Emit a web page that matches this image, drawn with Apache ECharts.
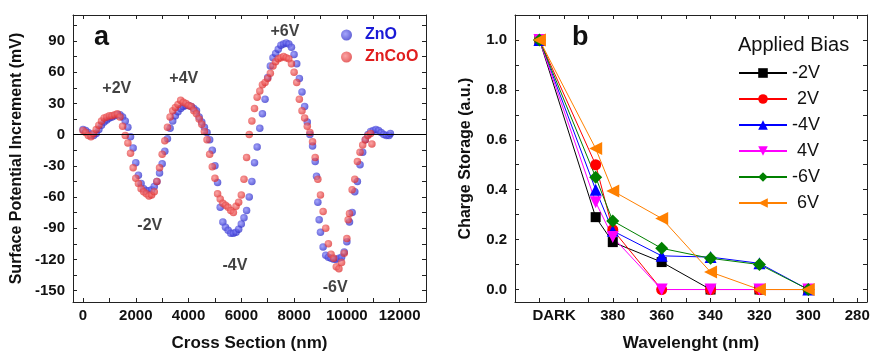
<!DOCTYPE html>
<html>
<head>
<meta charset="utf-8">
<script src="https://cdn.jsdelivr.net/npm/echarts@6/dist/echarts.min.js"></script>
<style>
  html, body { margin: 0; padding: 0; background: #fff; }
  #chart { width: 871px; height: 353px; }
</style>
</head>
<body>
<div id="chart"></div>
<script>
// ---- Panel a: surface potential profiles along the cross section ----
const znoX = [0,100,200,300,400,500,600,700,800,900,1000,1100,1200,1300,1400,1500,1600,1700,1800,1900,
  2000,2100,2200,2300,2400,2500,2600,2700,2800,2900,3000,3100,3200,3300,3400,3500,3600,3700,3800,3900,
  4000,4100,4200,4300,4400,4500,4600,4700,4800,4900,5000,5100,5200,5300,5400,5500,5600,5700,5800,5900,
  6000,6100,6200,6300,6400,6500,6600,6700,6800,6900,7000,7100,7200,7300,7400,7500,7600,7700,7800,7900,
  8000,8100,8200,8300,8400,8500,8600,8700,8800,8850,8900,8950,9000,9100,9200,9300,9400,9500,9600,9700,
  9800,9900,10000,10100,10200,10300,10400,10500,10600,10700,10800,10900,11000,11100,11200,11300,11400,11500,11600,11650];
const znoY = [5,4,2,0,-1,1,5,9,12,14,16,17,18,19,19,17,13,7,-2,-13,
  -27,-39,-47,-52,-54,-54,-53,-50,-45,-37,-28,-16,-4,6,13,18,22,25,27,28,
  28,27,25,23,17,12,7,2,-5,-15,-30,-46,-70,-84,-89,-92,-95,-95,-94,-91,
  -86,-80,-73,-60,-45,-27,-12,6,20,34,55,66,74,78,82,86,87,88,87,84,
  77,68,54,41,27,12,0,-11,-26,-40,-65,-82,-94,-108,-116,-118,-119,-120,-120,-119,
  -118,-113,-103,-84,-75,-55,-45,-29,-17,-5,0,3,4,5,4,2,0,-1,-1,1];

const zncooX = [0,100,200,300,400,500,600,700,800,900,1000,1100,1200,1300,1400,1500,1600,1700,1800,1900,
  2000,2100,2200,2300,2400,2500,2600,2700,2800,2900,3000,3100,3200,3300,3400,3500,3600,3700,3800,3900,
  4000,4100,4200,4300,4400,4500,4600,4700,4800,4900,5000,5100,5200,5300,5400,5500,5600,5700,5800,5900,
  6000,6100,6200,6300,6400,6500,6600,6700,6800,6900,7000,7100,7200,7300,7400,7500,7600,7700,7800,7900,
  8000,8100,8200,8300,8400,8500,8600,8700,8800,8900,9000,9100,9200,9300,9400,9500,9600,9700,9800,9900,
  10000,10050,10100,10200,10300,10400,10500,10600,10700,10800,10900,10950];
const zncooY = [4,2,-1,-2,1,5,9,13,16,17,18,18,19,20,17,8,-1,-8,-18,-32,
  -42,-47,-52,-55,-57,-59,-58,-55,-45,-32,-19,-6,7,17,23,26,29,33,31,30,
  28,27,23,20,15,10,3,-5,-19,-31,-42,-57,-62,-66,-68,-70,-73,-75,-69,-65,
  -58,-43,-22,0,13,25,36,42,48,50,54,59,66,70,73,74,75,74,73,68,
  60,50,34,23,16,8,2,-7,-22,-43,-58,-74,-90,-105,-115,-119,-127,-129,-123,-114,
  -100,-82,-76,-53,-43,-26,-17,-10,-5,-1,1,-9];

// bias annotations placed in data coordinates
const biasLabelX = [1280, 3820, 7650, 2530, 5760, 9560];
const biasLabelY = [44, 54, 99, -88, -126, -147];
const biasLabelText = ['+2V', '+4V', '+6V', '-2V', '-4V', '-6V'];

const aXLabels = [0, 2000, 4000, 6000, 8000, 10000, 12000];
const aXTicks = [0,1000,2000,3000,4000,5000,6000,7000,8000,9000,10000,11000,12000];
const aYLabels = [-150, -120, -90, -60, -30, 0, 30, 60, 90];
const aYTicks = [-150,-135,-120,-105,-90,-75,-60,-45,-30,-15,0,15,30,45,60,75,90,105];

// ---- Panel b: normalised charge storage vs illumination wavelength ----
// 410 stands for the dark reference point
const wavelength = [410, 387, 380, 360, 340, 320, 300];
const biasNeg2 = [1.0, 0.29, 0.19, 0.11, 0.0, 0.0, 0.0];
const biasPos2 = [1.0, 0.50, 0.24, 0.0, 0.0, 0.0, 0.0];
const biasNeg4 = [1.0, 0.40, 0.235, 0.135, 0.13, 0.105, 0.0];
const biasPos4 = [1.0, 0.35, 0.21, 0.0, 0.0, 0.0, 0.0];
const biasNeg6 = [1.0, 0.45, 0.275, 0.165, 0.125, 0.10, 0.0];
const biasPos6 = [1.0, 0.565, 0.395, 0.285, 0.07, 0.0, 0.0];

const bXLabels = [404, 380, 360, 340, 320, 300, 280];
const bXTicks = [410, 400, 390, 380, 370, 360, 350, 340, 330, 320, 310, 300, 290, 280];
const bYLabels = [0, 0.2, 0.4, 0.6, 0.8, 1.0];
const bYTicks = [0, 0.1, 0.2, 0.3, 0.4, 0.5, 0.6, 0.7, 0.8, 0.9, 1.0];

const FONT = 'Arial, "Liberation Sans", sans-serif';
const zip = (xs, ys) => xs.map((x, i) => [x, ys[i]]);

function dotGradient(light, dark) {
  return {
    type: 'radial', x: 0.4, y: 0.4, r: 0.6,
    colorStops: [{ offset: 0, color: light }, { offset: 1, color: dark }]
  };
}

function frameAxis(gridIndex, pos, min, max, ticks, extra) {
  return Object.assign({
    type: 'value', gridIndex, position: pos, min, max,
    axisLine: { show: true, onZero: false, lineStyle: { color: '#222', width: 1 } },
    axisTick: { show: true, inside: true, length: 4, customValues: ticks, lineStyle: { color: '#222' } },
    axisLabel: { show: false },
    splitLine: { show: false }
  }, extra || {});
}

const labelStyle = { fontFamily: FONT, fontWeight: 'bold', fontSize: 15, color: '#111' };
const titleStyle = { fontFamily: FONT, fontWeight: 'bold', fontSize: 17, color: '#111' };

const biasSeries = [
  { name: '-2V', data: biasNeg2, color: '#000000', symbol: 'rect', size: 10, rotate: 0 },
  { name: ' 2V', data: biasPos2, color: '#ff0000', symbol: 'circle', size: 11, rotate: 0 },
  { name: '-4V', data: biasNeg4, color: '#0000ff', symbol: 'triangle', size: 12, rotate: 0 },
  { name: ' 4V', data: biasPos4, color: '#ff00ff', symbol: 'triangle', size: 12, rotate: 180 },
  { name: '-6V', data: biasNeg6, color: '#008000', symbol: 'diamond', size: 13, rotate: 0 },
  { name: ' 6V', data: biasPos6, color: '#ff8000', symbol: 'triangle', size: 13, rotate: 90 }
];

const chart = echarts.init(document.getElementById('chart'), null, { renderer: 'canvas' });

chart.setOption({
  backgroundColor: '#ffffff',
  animation: false,
  grid: [
    { left: 73, top: 15, width: 353, height: 287, containLabel: false, outerBoundsMode: 'none' },
    { left: 515, top: 15, width: 352, height: 287, containLabel: false, outerBoundsMode: 'none' }
  ],
  xAxis: [
    frameAxis(0, 'bottom', -380, 13000, aXTicks, {
      axisLabel: { show: true, customValues: aXLabels, margin: 6, ...labelStyle,
        formatter: v => String(v) },
      name: 'Cross Section (nm)', nameLocation: 'middle', nameGap: 33,
      nameTextStyle: titleStyle
    }),
    frameAxis(0, 'top', -380, 13000, aXTicks),
    frameAxis(1, 'bottom', 276, 420, bXTicks, {
      inverse: true,
      axisLabel: {
        show: true, customValues: bXLabels, margin: 6, ...labelStyle,
        formatter: v => (v === 404 ? 'DARK' : String(v))
      },
      name: 'Wavelenght (nm)', nameLocation: 'middle', nameGap: 33,
      nameTextStyle: titleStyle
    }),
    frameAxis(1, 'top', 276, 420, bXTicks, { inverse: true })
  ],
  yAxis: [
    frameAxis(0, 'left', -161, 115, aYTicks, {
      axisLabel: { show: true, customValues: aYLabels, margin: 8, ...labelStyle },
      name: 'Surface Potential Increment (mV)', nameLocation: 'middle', nameGap: 48,
      nameTextStyle: { ...titleStyle, fontSize: 16 }
    }),
    frameAxis(0, 'right', -161, 115, aYTicks),
    frameAxis(1, 'left', -0.05, 1.1, bYTicks, {
      axisLabel: { show: true, customValues: bYLabels, margin: 8, ...labelStyle,
        formatter: v => v.toFixed(1) },
      name: 'Charge Storage (a.u.)', nameLocation: 'middle', nameGap: 41,
      nameTextStyle: { ...titleStyle, fontSize: 16 }
    }),
    frameAxis(1, 'right', -0.05, 1.1, bYTicks)
  ],
  legend: [
    {
      orient: 'vertical', left: 336, top: 22, itemWidth: 11, itemHeight: 11, itemGap: 6,
      data: [
        { name: 'ZnO', textStyle: { color: '#1a1ad6' } },
        { name: 'ZnCoO', textStyle: { color: '#e01e1e' } }
      ],
      textStyle: { fontFamily: FONT, fontWeight: 'bold', fontSize: 16, padding: [0, 0, 0, 8] }
    },
    {
      orient: 'vertical', left: 733, top: 59, itemWidth: 48, itemHeight: 12, itemGap: 8,
      data: biasSeries.map(s => s.name),
      textStyle: { fontFamily: FONT, fontSize: 18, color: '#111' }
    }
  ],
  graphic: [
    { type: 'text', left: 94, top: 24,
      style: { text: 'a', font: 'bold 27px ' + FONT, fill: '#111' } },
    { type: 'text', left: 572, top: 24,
      style: { text: 'b', font: 'bold 27px ' + FONT, fill: '#111' } },
    { type: 'text', left: 738, top: 35,
      style: { text: 'Applied Bias', font: '20px ' + FONT, fill: '#111' } }
  ],
  series: [
    {
      name: 'ZnO', type: 'scatter', xAxisIndex: 0, yAxisIndex: 0,
      symbolSize: 7.5,
      itemStyle: { color: dotGradient('rgba(130,130,250,0.9)', 'rgba(40,40,200,0.9)') },
      data: zip(znoX, znoY),
      markLine: {
        silent: true, symbol: 'none', label: { show: false },
        lineStyle: { color: '#000', width: 1, type: 'solid' },
        data: [{ yAxis: 0 }]
      },
      z: 2
    },
    {
      name: 'ZnCoO', type: 'scatter', xAxisIndex: 0, yAxisIndex: 0,
      symbolSize: 7.5,
      itemStyle: { color: dotGradient('rgba(250,130,130,0.9)', 'rgba(220,40,40,0.9)') },
      data: zip(zncooX, zncooY),
      z: 3
    },
    {
      name: 'bias labels', type: 'scatter', xAxisIndex: 0, yAxisIndex: 0,
      symbolSize: 0, silent: true,
      data: biasLabelX.map((x, i) => ({ value: [x, biasLabelY[i]], name: biasLabelText[i] })),
      label: {
        show: true, position: 'inside', formatter: p => p.name,
        fontFamily: FONT, fontWeight: 'bold', fontSize: 16, color: '#111'
      },
      z: 4
    },
    ...biasSeries.map(s => ({
      name: s.name, type: 'line', xAxisIndex: 2, yAxisIndex: 2,
      data: zip(wavelength, s.data),
      symbol: s.symbol, symbolSize: s.size, symbolRotate: s.rotate,
      showAllSymbol: true,
      lineStyle: { color: s.color, width: 1 },
      itemStyle: { color: s.color, borderWidth: 0 },
      z: 3
    }))
  ]
});
</script>
</body>
</html>
